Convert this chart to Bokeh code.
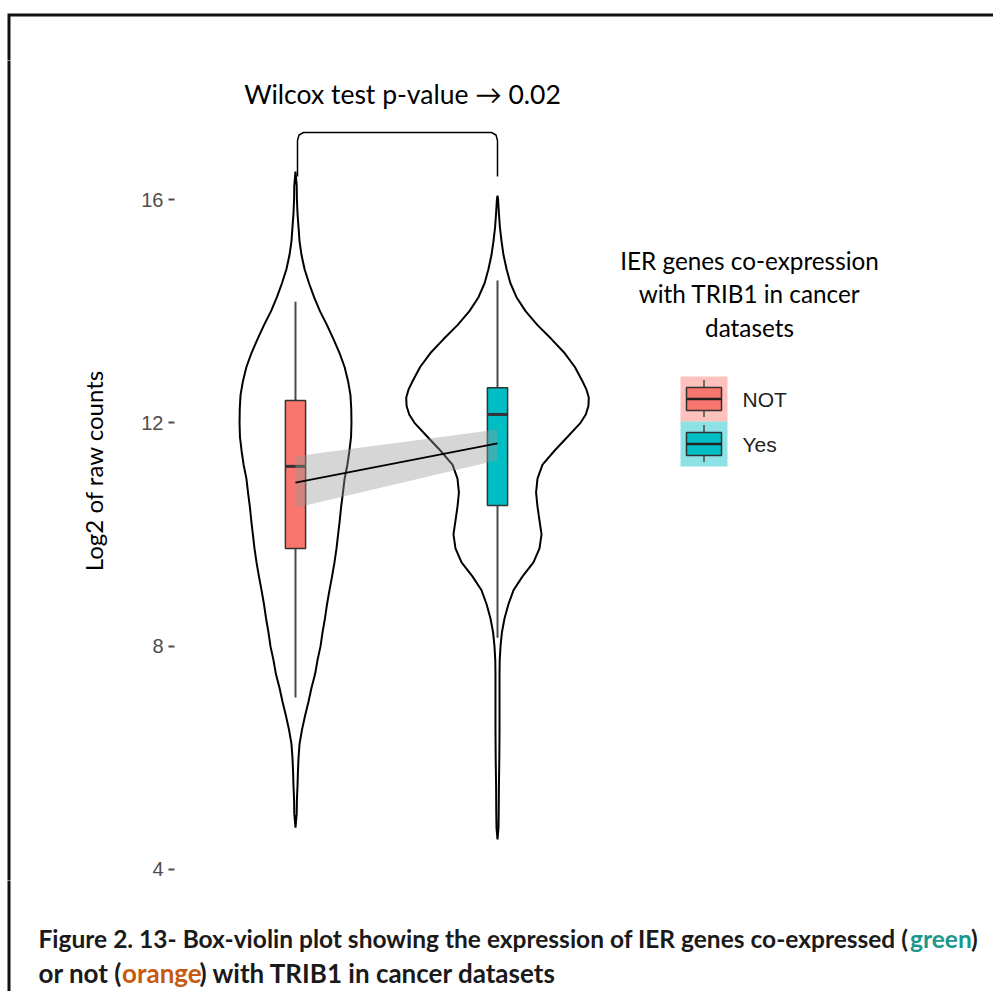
import numpy as np
from bokeh.plotting import figure
from bokeh.layouts import column, row
from bokeh.models import Range1d, LinearAxis, FixedTicker, Label
from bokeh.embed import file_html
from bokeh.resources import INLINE

# ---- data -------------------------------------------------------------
groups = ["NOT", "Yes"]
group_pos = [1, 2]
group_colors = ["#F8766D", "#00BFC4"]

# box-plot statistics, log2 raw counts
box_q1 = [9.75, 10.52]
box_median = [11.22, 12.15]
box_q3 = [12.40, 12.63]
whisker_low = [7.08, 8.15]
whisker_high = [14.17, 14.55]

# violin outlines: expression level and density half-width (x units)
not_levels = [16.5, 16.25, 16.0, 15.75, 15.5, 15.25, 15.0, 14.75, 14.5, 14.25,
              14.0, 13.75, 13.5, 13.25, 13.0, 12.75, 12.5, 12.25, 12.0, 11.75,
              11.5, 11.25, 11.0, 10.75, 10.5, 10.25, 10.0, 9.75, 9.5, 9.25,
              9.0, 8.75, 8.5, 8.25, 8.0, 7.75, 7.5, 7.25, 7.0, 6.75,
              6.5, 6.25, 6.0, 5.75, 5.5, 5.25, 5.0, 4.75]
not_halfwidth = [0.0, 0.006, 0.007, 0.010, 0.015, 0.020, 0.030, 0.045, 0.067, 0.092,
                 0.121, 0.156, 0.188, 0.218, 0.243, 0.260, 0.272, 0.276, 0.277, 0.275,
                 0.267, 0.257, 0.243, 0.235, 0.226, 0.219, 0.211, 0.203, 0.193, 0.181,
                 0.168, 0.156, 0.146, 0.134, 0.124, 0.109, 0.097, 0.079, 0.064, 0.047,
                 0.032, 0.020, 0.015, 0.012, 0.010, 0.007, 0.006, 0.0]

yes_levels = [16.07, 16.0, 15.75, 15.5, 15.25, 15.0, 14.75, 14.5, 14.25, 14.0,
              13.75, 13.5, 13.25, 13.0, 12.75, 12.6, 12.45, 12.3, 12.15, 12.0,
              11.75, 11.5, 11.25, 11.0, 10.75, 10.5, 10.25, 10.0, 9.75, 9.5,
              9.25, 9.0, 8.75, 8.5, 8.25, 8.0, 7.75, 7.5, 7.0, 6.5,
              6.0, 5.5, 5.0, 4.75, 4.54]
yes_halfwidth = [0.0, 0.003, 0.007, 0.012, 0.020, 0.030, 0.045, 0.064, 0.094, 0.139,
                 0.198, 0.267, 0.332, 0.383, 0.420, 0.440, 0.452, 0.450, 0.437, 0.411,
                 0.347, 0.282, 0.223, 0.198, 0.191, 0.198, 0.208, 0.218, 0.208, 0.178,
                 0.124, 0.079, 0.054, 0.035, 0.022, 0.015, 0.011, 0.010, 0.010, 0.010,
                 0.009, 0.007, 0.006, 0.005, 0.0]

# linear trend across the two groups with its confidence band
trend_fit = [10.93, 11.63]
trend_lower = [10.48, 11.33]
trend_upper = [11.40, 11.88]

y_ticks = [4, 8, 12, 16]

# ---- page geometry (pixels) ----------------------------------------------
W, H = 993, 991
FRAME_L, FRAME_T, FRAME_B = 174, 60, 880   # plotting area, page pixels
TOP_H = FRAME_T            # strip above the plotting area
SIDE_W = 60                # strip left of the y axis
MAIN_H = FRAME_B - FRAME_T
CAP_H = H - FRAME_B        # caption strip
MAIN_W = W - SIDE_W
PX_X = 202.0               # pixels per x unit
PX_Y = 55.83               # pixels per log2 unit
Y16 = 199                  # page row of the 16 tick

x_start = 1 - (295 - FRAME_L) / PX_X
x_end = x_start + (W - FRAME_L) / PX_X
y_top = 16 + (Y16 - FRAME_T) / PX_Y
y_bot = 16 - (FRAME_B - Y16) / PX_Y


def xd(px):
    """page column -> data x of the main panel"""
    return x_start + (px - FRAME_L) / PX_X


def yd(py):
    """page row -> data y of the main panel"""
    return 16 - (py - Y16) / PX_Y


def strip(w, h, x0, x1, y0, y1):
    """blank figure whose data coordinates are page pixels"""
    return figure(width=w, height=h, output_backend="svg", toolbar_location=None,
                  x_range=Range1d(x0, x1), y_range=Range1d(y1, y0),
                  x_axis_type=None, y_axis_type=None, min_border=0,
                  outline_line_color=None, background_fill_color="white",
                  border_fill_color="white")


FRAME_COLOR = "#111111"
FRAME_LW = 3
FX, FY = 8.5, 14.5          # page position of the panel frame edges

top = strip(W, TOP_H, 0, W, 0, TOP_H)
top.line([FX, FX, W + 5], [TOP_H + 5, FY, FY], line_color=FRAME_COLOR,
         line_width=FRAME_LW, line_join="miter")

side = strip(SIDE_W, MAIN_H, 0, SIDE_W, FRAME_T, FRAME_B)
side.line([FX, FX], [FRAME_T - 5, FRAME_B + 5], line_color=FRAME_COLOR,
          line_width=FRAME_LW)

cap = strip(W, CAP_H, 0, W, FRAME_B, H)
cap.line([FX, FX], [FRAME_B - 5, H + 5], line_color=FRAME_COLOR,
         line_width=FRAME_LW)

# ---- main panel ---------------------------------------------------------
p = figure(width=MAIN_W, height=MAIN_H, output_backend="svg", toolbar_location=None,
           x_range=Range1d(x_start, x_end), y_range=Range1d(y_bot, y_top),
           x_axis_type=None, y_axis_type=None,
           min_border_left=FRAME_L - SIDE_W, min_border_right=0,
           min_border_top=0, min_border_bottom=0,
           outline_line_color=None, background_fill_color="white",
           border_fill_color="white")

yaxis = LinearAxis(ticker=FixedTicker(ticks=y_ticks),
                   axis_label="Log2 of raw counts",
                   axis_line_color=None,
                   major_tick_line_color="#4d4d4d", major_tick_line_width=2,
                   major_tick_out=6, major_tick_in=0,
                   minor_tick_line_color=None,
                   major_label_text_font="Liberation Sans",
                   major_label_text_font_size="20px",
                   major_label_text_color="#4d4d4d",
                   major_label_standoff=5,
                   axis_label_text_font="Lato",
                   axis_label_text_font_size="24px",
                   axis_label_text_font_style="normal",
                   axis_label_text_color="black",
                   axis_label_standoff=30)
p.add_layout(yaxis, "left")

# violins
for pos, lev, hw in [(group_pos[0], not_levels, not_halfwidth),
                     (group_pos[1], yes_levels, yes_halfwidth)]:
    lev = np.asarray(lev)
    hw = np.asarray(hw)
    xs = np.concatenate([pos + hw, (pos - hw)[::-1]])
    ys = np.concatenate([lev, lev[::-1]])
    p.patch(xs, ys, fill_alpha=0, line_color="black", line_width=2)

# box plots
BOX_W = 0.1
p.segment(x0=group_pos, y0=box_q3, x1=group_pos, y1=whisker_high,
          line_color="#4a4a4a", line_width=2)
p.segment(x0=group_pos, y0=box_q1, x1=group_pos, y1=whisker_low,
          line_color="#4a4a4a", line_width=2)
p.vbar(x=group_pos, width=BOX_W, top=box_q3, bottom=box_q1,
       fill_color=group_colors, line_color="#333333", line_width=1.5)
p.segment(x0=[g - BOX_W / 2 for g in group_pos], y0=box_median,
          x1=[g + BOX_W / 2 for g in group_pos], y1=box_median,
          line_color="#333333", line_width=3)

# trend with confidence band
p.varea(x=group_pos, y1=trend_lower, y2=trend_upper,
        fill_color="#999999", fill_alpha=0.4)
p.line(group_pos, trend_fit, line_color="black", line_width=1.8)

# significance bracket and test result
bx = [297, 297, 298.5, 303, 491, 495.5, 497, 497]
by = [176, 140, 134.5, 132, 132, 134.5, 140, 176]
p.line([xd(v) for v in bx], [yd(v) for v in by], line_color="black", line_width=1.5)
p.add_layout(Label(x=xd(402), y=yd(93), text="Wilcox test p-value \u2192 0.02",
                   text_font="Lato", text_font_size="26.5px", text_color="black",
                   text_align="center", text_baseline="middle"))

# legend
title_lines = ["IER genes co-expression", "with TRIB1 in cancer", "datasets"]
for line, py in zip(title_lines, [260, 293, 327]):
    p.add_layout(Label(x=xd(749), y=yd(py), text=line, text_font="Lato",
                       text_font_size="24.3px", text_color="black",
                       text_align="center", text_baseline="middle"))

key_cx = xd(703.5)
for i, (name, col) in enumerate(zip(groups, group_colors)):
    cy = 398.5 + 45 * i
    p.rect(x=key_cx, y=yd(cy), width=47 / PX_X, height=45 / PX_Y,
           fill_color=col, fill_alpha=0.45, line_color=None)
    p.segment(x0=key_cx, y0=yd(cy - 19), x1=key_cx, y1=yd(cy + 18),
              line_color="#4a4a4a", line_width=1.5)
    p.rect(x=key_cx, y=yd(cy), width=35 / PX_X, height=23 / PX_Y,
           fill_color=col, line_color="#333333", line_width=1.5)
    p.segment(x0=key_cx - 17.5 / PX_X, y0=yd(cy), x1=key_cx + 17.5 / PX_X, y1=yd(cy),
              line_color="#222222", line_width=2.5)
    p.add_layout(Label(x=xd(742), y=yd(cy), text=name, text_font="Liberation Sans",
                       text_font_size="21px", text_color="#222222",
                       text_align="left", text_baseline="middle"))

# ---- caption ------------------------------------------------------------
caption = [
    (38, 938, "Figure 2. 13- Box-violin plot showing the expression of IER genes co-expressed (", "#1a1a1a", "24.5px"),
    (909.5, 938, "green", "#1b978c", "24.5px"),
    (970.5, 938, ")", "#1a1a1a", "24.5px"),
    (38, 972, "or not (", "#1a1a1a", "26px"),
    (121.5, 972, "orange", "#c55a11", "26px"),
    (199, 972, ") with TRIB1 in cancer datasets", "#1a1a1a", "26px"),
]
for px, py, txt, col, size in caption:
    cap.add_layout(Label(x=px, y=py, text=txt, text_font="Lato",
                         text_font_size=size, text_font_style="bold",
                         text_color=col, text_align="left", text_baseline="middle"))

layout = column(top, row(side, p), cap)
open("out.html", "w").write(file_html(layout, INLINE))
